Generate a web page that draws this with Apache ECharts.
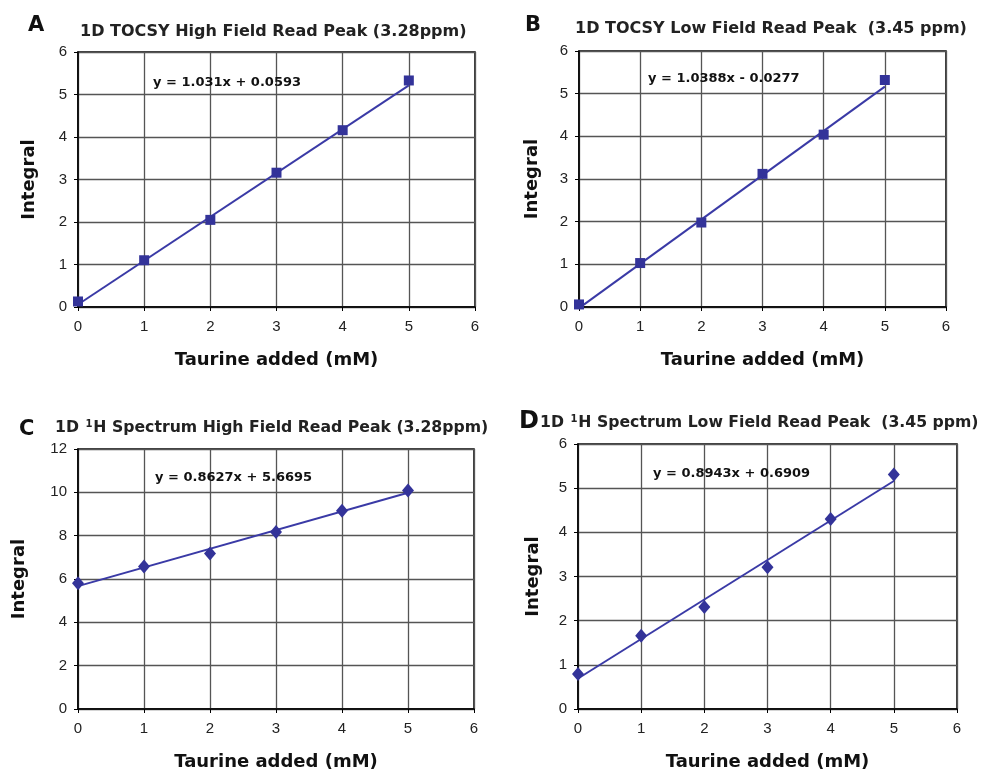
<!DOCTYPE html>
<html>
<head>
<meta charset="utf-8">
<script src="https://cdn.jsdelivr.net/npm/echarts@6/dist/echarts.min.js"></script>
<style>
  html, body { margin: 0; padding: 0; background: #fff; }
  #main { width: 985px; height: 772px; }
</style>
</head>
<body>
<div id="main"></div>
<script>
// taurine added (mM)
const taurine = [0, 1, 2, 3, 4, 5];
// integrals
const tocsyHigh = [0.13, 1.10, 2.05, 3.16, 4.16, 5.33];
const tocsyLow = [0.06, 1.03, 1.98, 3.12, 4.04, 5.32];
const protonHigh = [5.80, 6.58, 7.18, 8.17, 9.15, 10.08];
const protonLow = [0.79, 1.66, 2.31, 3.21, 4.30, 5.31];
// regression lines shown in the figure
const slopes = [1.031, 1.0388, 0.8627, 0.8943];
const intercepts = [0.0593, -0.0277, 5.6695, 0.6909];
const equations = ['y = 1.031x + 0.0593', 'y = 1.0388x - 0.0277', 'y = 0.8627x + 5.6695', 'y = 0.8943x + 0.6909'];
const letters = ['A', 'B', 'C', 'D'];
const yMax = [6, 6, 12, 6];
const yStep = [1, 1, 2, 1];

const chart = echarts.init(document.getElementById('main'));
const FONT = '"Liberation Sans", Arial, sans-serif';
const BOLD = '"DejaVu Sans", "Liberation Sans", sans-serif';
const markColor = '#333399';
const lineColor = '#3a3aa6';

// plot areas (px)
const grids = [
  {left: 78, top: 52, width: 397, height: 255},
  {left: 579, top: 51, width: 367, height: 256},
  {left: 78, top: 449, width: 396, height: 260},
  {left: 578, top: 444, width: 379, height: 265}
];
const nameGapY = [40, 38, 50, 36];
const allData = [tocsyHigh, tocsyLow, protonHigh, protonLow];
const symbols = ['rect', 'rect', 'diamond', 'diamond'];
const symSize = [10, 10, [12, 14], [12, 14]];

let option = {
  animation: false,
  backgroundColor: '#fff',
  title: [],
  grid: [],
  xAxis: [],
  yAxis: [],
  series: []
};

grids.forEach((g, i) => {
  option.grid.push(Object.assign({show: true, borderColor: '#000', borderWidth: 1.5, backgroundColor: '#fff'}, g));
  option.xAxis.push({
    type: 'value', gridIndex: i, min: 0, max: 6, interval: 1,
    name: 'Taurine added (mM)', nameLocation: 'middle', nameGap: 44,
    nameTextStyle: {fontFamily: BOLD, fontWeight: 'bold', fontSize: 18, color: '#111'},
    axisLine: {show: true, lineStyle: {color: '#000', width: 1.5}},
    axisTick: {show: true, length: 4, lineStyle: {color: '#000'}},
    axisLabel: {fontFamily: FONT, fontSize: 15, color: '#222', margin: 12},
    splitLine: {show: true, lineStyle: {color: '#555', width: 1.3}}
  });
  option.yAxis.push({
    type: 'value', gridIndex: i, min: 0, max: yMax[i], interval: yStep[i],
    name: 'Integral', nameLocation: 'middle', nameGap: nameGapY[i], nameRotate: 90,
    nameTextStyle: {fontFamily: BOLD, fontWeight: 'bold', fontSize: 18, color: '#111'},
    axisLine: {show: true, lineStyle: {color: '#000', width: 1.5}},
    axisTick: {show: true, length: 4, lineStyle: {color: '#000'}},
    axisLabel: {fontFamily: FONT, fontSize: 15, color: '#222', margin: 11},
    splitLine: {show: true, lineStyle: {color: '#555', width: 1.3}}
  });
  // trend line from the equation
  option.series.push({
    type: 'line', xAxisIndex: i, yAxisIndex: i, showSymbol: false, silent: true,
    lineStyle: {color: lineColor, width: 2},
    data: [[taurine[0], intercepts[i] + slopes[i] * taurine[0]],
           [taurine[5], intercepts[i] + slopes[i] * taurine[5]]],
    z: 3
  });
  option.series.push({
    type: 'scatter', xAxisIndex: i, yAxisIndex: i,
    symbol: symbols[i], symbolSize: symSize[i],
    itemStyle: {color: markColor, opacity: 1},
    data: taurine.map((x, k) => [x, allData[i][k]]),
    z: 4
  });
});

// panel letters
const letterPos = [[23, 10], [520, 10], [14, 414], [514, 405]];
letters.forEach((l, i) => {
  option.title.push({
    text: l, left: letterPos[i][0], top: letterPos[i][1],
    textStyle: {fontFamily: BOLD, fontWeight: 'bold', fontSize: i == 3 ? 24 : 21, color: '#111'}
  });
});

// panel titles
const richSup = {
  sup: {fontFamily: BOLD, fontWeight: 'bold', fontSize: 10, color: '#222', verticalAlign: 'top', padding: [0, 1, 8, 1]},
  t: {fontFamily: BOLD, fontWeight: 'bold', fontSize: 15.7, color: '#222'}
};
option.title.push({
  text: '1D TOCSY High Field Read Peak (3.28ppm)', left: 75, top: 19,
  textStyle: {fontFamily: BOLD, fontWeight: 'bold', fontSize: 16, color: '#222'}
});
option.title.push({
  text: '1D TOCSY Low Field Read Peak  (3.45 ppm)', left: 570, top: 16,
  textStyle: {fontFamily: BOLD, fontWeight: 'bold', fontSize: 16, color: '#222'}
});
option.title.push({
  text: '{t|1D }{sup|1}{t|H Spectrum High Field Read Peak (3.28ppm)}', left: 50, top: 414,
  textStyle: {rich: richSup}
});
option.title.push({
  text: '{t|1D }{sup|1}{t|H Spectrum Low Field Read Peak  (3.45 ppm)}', left: 535, top: 409,
  textStyle: {rich: richSup}
});

// regression equations
const eqPos = [[148, 71], [643, 67], [150, 466], [648, 462]];
equations.forEach((e, i) => {
  option.title.push({
    text: e, left: eqPos[i][0], top: eqPos[i][1],
    textStyle: {fontFamily: BOLD, fontWeight: 'bold', fontSize: 13, color: '#111'}
  });
});

chart.setOption(option);
</script>
</body>
</html>
